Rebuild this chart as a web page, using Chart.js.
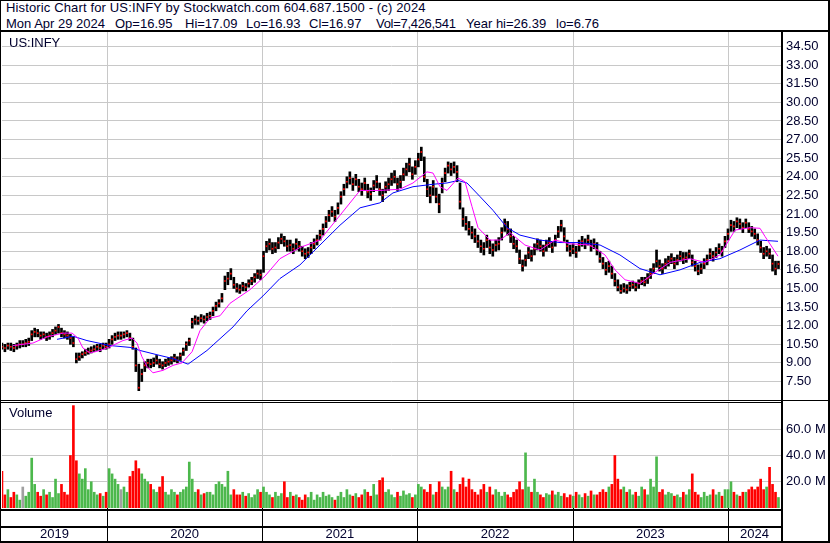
<!DOCTYPE html>
<html><head><meta charset="utf-8">
<script src="https://cdn.jsdelivr.net/npm/chart.js@4.4.1/dist/chart.umd.min.js"></script>
<style>
html,body{margin:0;padding:0;background:#fff;}
body{width:830px;height:543px;position:relative;overflow:hidden;font-family:"Liberation Sans",Arial,sans-serif;color:#00002e;}
.t{position:absolute;white-space:pre;font-size:13px;line-height:15px;}
.l{position:absolute;background:#000;}
canvas{position:absolute;left:0;}
</style></head><body>
<canvas id="price" width="830" height="368" style="top:32px"></canvas>
<canvas id="vol" width="830" height="140" style="top:403px"></canvas>
<div class="t" style="left:6px;top:0px;letter-spacing:0.14px">Historic Chart for US:INFY by Stockwatch.com 604.687.1500 - (c) 2024</div>
<div class="t" style="left:6px;top:16px">Mon Apr 29 2024</div>
<div class="t" style="left:115px;top:16px">Op=16.95</div>
<div class="t" style="left:185px;top:16px">Hi=17.09</div>
<div class="t" style="left:246px;top:16px">Lo=16.93</div>
<div class="t" style="left:309px;top:16px">Cl=16.97</div>
<div class="t" style="left:376px;top:16px;letter-spacing:-0.3px">Vol=7,426,541</div>
<div class="t" style="left:466px;top:16px">Year hi=26.39</div>
<div class="t" style="left:556px;top:16px">lo=6.76</div>
<div class="t" style="left:9px;top:35px">US:INFY</div>
<div class="t" style="left:9px;top:405px">Volume</div>
<div class="l" style="left:0;top:0;width:830px;height:1px"></div>
<div class="l" style="left:0;top:0;width:1px;height:543px"></div>
<div class="l" style="left:828px;top:0;width:2px;height:543px"></div>
<div class="l" style="left:0;top:541px;width:830px;height:2px"></div>
<div class="l" style="left:0;top:30px;width:830px;height:2px"></div>
<div class="l" style="left:781px;top:30px;width:2px;height:513px"></div>
<div class="l" style="left:0;top:400px;width:830px;height:1px"></div>
<div class="l" style="left:0;top:402px;width:782px;height:1px"></div>
<div class="l" style="left:0;top:509px;width:782px;height:2px"></div>
<div class="l" style="left:0;top:526px;width:782px;height:2px"></div>
<script>
// ---- data (weekly, starting week of 2019-04-29) ----
const START = [2019, 3, 29];
const CLOSE = [
10.3,10.2,10.4,10.3,10.2,10.4,10.5,10.5,10.6,10.7,
11.3,11.5,11.4,11.2,11.3,11.1,11.2,11.4,11.6,11.9,
11.4,11.3,11.2,11.0,10.6,9.3,9.5,9.7,9.8,9.9,
10.0,10.1,10.3,10.2,10.4,10.3,10.5,10.9,11.1,11.2,
11.2,11.3,11.4,11.0,10.3,8.8,7.0,8.1,8.8,9.0,
8.9,9.0,9.2,8.9,8.8,9.0,9.1,9.2,9.4,9.2,
9.6,10.0,10.5,10.8,12.3,12.5,12.4,12.6,12.5,12.7,
12.8,13.2,13.6,13.8,14.2,15.6,15.8,16.2,15.3,15.0,
14.9,15.2,15.1,15.4,15.6,15.9,16.2,16.1,17.6,18.4,
18.6,18.2,18.3,18.7,19.0,18.8,18.4,18.5,18.2,18.6,
18.4,18.0,17.8,17.9,18.3,18.6,18.9,19.3,19.8,20.4,
20.9,21.2,20.8,21.5,22.4,23.0,23.6,23.9,23.4,23.8,
23.2,23.0,23.5,22.8,22.6,23.3,23.6,23.0,22.5,23.2,
23.4,23.8,24.0,23.4,23.6,24.2,24.6,25.0,24.2,24.8,
25.4,26.0,24.0,23.0,22.5,23.2,22.4,21.8,23.5,24.3,
24.9,24.6,24.8,24.4,22.0,20.6,20.2,19.8,19.5,19.2,
18.8,18.4,18.2,18.9,18.3,18.1,18.5,18.6,19.5,20.2,
19.8,19.2,18.6,18.4,17.4,16.8,17.3,17.9,17.6,18.2,
18.6,18.4,18.0,18.5,18.7,18.3,18.9,19.6,20.1,19.2,
18.4,18.0,18.2,17.9,18.5,18.8,18.6,18.9,18.4,18.6,
18.1,17.4,17.0,16.5,16.8,16.2,15.6,15.1,14.8,15.0,
14.9,15.2,15.3,15.1,15.4,15.6,15.5,15.8,16.2,16.6,
17.2,16.8,16.6,17.0,17.2,17.4,17.0,17.3,17.6,17.4,
17.5,17.8,17.1,16.8,16.4,16.6,17.0,17.3,17.8,17.6,
17.9,18.2,18.0,18.8,19.4,20.1,20.0,20.4,20.2,19.9,
20.3,19.8,19.6,19.4,18.9,18.3,17.8,18.0,17.8,17.0,16.6,16.97];
const HIGH = [
10.6,10.5,10.6,10.6,10.5,10.6,10.8,10.8,10.9,11.0,
11.6,11.8,11.7,11.5,11.5,11.4,11.5,11.7,11.9,12.1,
11.8,11.6,11.5,11.3,11.1,9.8,9.8,9.9,10.1,10.2,
10.3,10.4,10.5,10.5,10.6,10.6,10.9,11.2,11.4,11.5,
11.5,11.5,11.6,11.4,11.0,10.2,8.9,8.5,9.1,9.3,
9.3,9.4,9.6,9.3,9.1,9.3,9.4,9.5,9.7,9.5,
9.8,10.2,10.7,11.0,12.6,12.8,12.7,12.9,12.8,13.0,
13.1,13.5,13.9,14.1,14.6,16.0,16.3,16.6,15.9,15.4,
15.3,15.5,15.4,15.7,15.9,16.2,16.5,16.5,18.0,18.8,
19.0,18.7,18.7,19.1,19.4,19.2,18.9,18.9,18.6,19.0,
18.8,18.4,18.2,18.3,18.7,19.0,19.3,19.7,20.2,20.8,
21.3,21.6,21.3,21.9,22.8,23.4,24.0,24.4,23.9,24.2,
23.8,23.5,23.9,23.4,23.1,23.7,24.1,23.5,23.0,23.6,
23.9,24.3,24.5,23.9,24.1,24.7,25.1,25.5,24.8,25.3,
25.9,26.39,25.6,23.8,23.2,23.7,23.1,22.6,23.9,24.7,
25.2,25.1,25.2,24.9,23.5,21.5,20.8,20.4,20.0,19.8,
19.3,18.9,18.7,19.3,18.9,18.6,18.9,19.1,19.9,20.6,
20.4,19.8,19.2,18.9,18.1,17.3,17.7,18.3,18.1,18.6,
19.0,18.9,18.5,18.9,19.1,18.8,19.3,20.0,20.5,19.9,
18.9,18.5,18.6,18.4,18.9,19.2,19.0,19.3,18.9,19.0,
18.7,18.0,17.5,17.1,17.2,16.8,16.2,15.7,15.3,15.4,
15.3,15.5,15.6,15.5,15.7,15.9,15.9,16.2,16.6,17.0,
18.1,17.3,17.0,17.4,17.6,17.8,17.5,17.7,18.0,17.9,
17.9,18.1,17.7,17.2,16.9,17.0,17.4,17.7,18.2,18.0,
18.3,18.6,18.4,19.2,19.8,20.5,20.4,20.7,20.6,20.3,
20.6,20.3,20.0,19.8,19.4,18.8,18.3,18.4,18.2,17.7,17.2,17.2];
const LOW = [
10.1,9.9,10.1,10.0,9.9,10.1,10.2,10.3,10.3,10.4,
10.8,11.1,11.1,10.9,11.0,10.8,10.9,11.1,11.3,11.4,
11.1,11.0,10.9,10.5,10.3,9.0,9.2,9.4,9.6,9.7,
9.8,9.9,10.0,9.9,10.1,10.1,10.2,10.5,10.8,10.9,
10.9,11.0,11.1,10.8,10.1,8.3,6.76,7.5,8.3,8.6,
8.6,8.7,8.9,8.6,8.5,8.7,8.8,8.9,9.1,9.0,
9.2,9.6,10.0,10.4,11.8,12.1,12.1,12.3,12.2,12.4,
12.5,12.8,13.2,13.5,13.9,14.9,15.3,15.7,15.0,14.7,
14.6,14.8,14.8,15.1,15.3,15.5,15.8,15.7,16.3,17.9,
18.1,17.8,17.9,18.2,18.6,18.4,18.0,18.0,17.8,18.1,
18.0,17.6,17.4,17.5,17.8,18.2,18.5,18.9,19.3,19.9,
20.4,20.8,20.4,21.0,21.8,22.5,23.1,23.4,22.9,23.3,
22.8,22.5,22.9,22.3,22.1,22.8,23.1,22.5,22.0,22.7,
22.9,23.3,23.5,22.9,23.1,23.7,24.1,24.4,23.8,24.2,
24.8,25.3,23.6,22.4,21.9,22.5,21.9,21.1,22.7,23.6,
24.3,24.1,24.3,23.6,21.4,20.0,19.7,19.3,19.0,18.7,
18.3,17.9,17.7,18.3,17.8,17.6,18.0,18.1,18.9,19.6,
19.3,18.7,18.2,17.9,17.0,16.4,16.8,17.4,17.2,17.7,
18.1,18.0,17.6,18.0,18.3,17.9,18.4,19.1,19.6,18.8,
18.0,17.6,17.8,17.5,18.0,18.4,18.2,18.5,18.0,18.2,
17.7,17.1,16.6,16.1,16.3,15.8,15.2,14.8,14.6,14.7,
14.6,14.8,15.0,14.8,15.0,15.3,15.2,15.4,15.8,16.2,
16.7,16.4,16.2,16.6,16.8,17.0,16.6,16.9,17.2,17.0,
17.1,17.4,16.8,16.4,16.1,16.2,16.6,16.9,17.4,17.2,
17.5,17.8,17.6,18.3,18.9,19.6,19.6,19.9,19.8,19.5,
19.9,19.5,19.2,19.0,18.5,17.9,17.4,17.6,17.4,16.4,16.1,16.6];
const VOLUME = [ // millions
28,10,14,8,12,10,6,16,9,12,
38,18,12,9,14,10,12,8,22,11,
18,12,10,40,78,36,26,22,30,14,
20,12,10,11,9,12,30,26,22,18,
14,16,12,24,28,36,30,26,22,20,
18,14,12,16,24,12,10,14,12,10,
12,14,16,35,22,12,14,10,11,12,
12,10,18,20,18,16,28,10,14,10,
10,12,9,11,8,10,14,12,16,12,
10,8,12,9,11,20,8,12,9,10,
8,6,10,8,12,6,10,8,12,9,
10,8,6,9,12,8,14,10,9,11,
8,10,14,12,9,18,10,21,23,12,
14,10,8,12,9,13,10,11,8,10,
18,16,14,12,18,10,12,20,16,14,
16,28,14,12,18,23,16,22,14,12,
10,14,18,12,16,10,14,12,9,12,
10,8,12,14,20,14,42,16,12,22,
12,10,8,11,10,13,10,12,9,11,
8,10,9,12,10,8,11,9,13,10,
10,12,14,12,16,18,40,22,14,16,
12,14,10,12,9,16,14,10,22,16,
39,12,14,10,12,11,9,10,8,12,
10,14,26,12,10,8,12,9,10,14,
10,12,9,14,14,20,12,10,9,12,
12,14,16,14,16,22,14,16,31,18,12,8];
// short moving average (magenta), read at dates (fractional years)
const MA_FAST_T = [2019.394,2019.523,2019.614,2019.717,2019.775,2019.813,2019.845,2019.890,2019.955,2020.019,2020.103,2020.161,2020.193,2020.225,2020.258,2020.296,2020.361,2020.425,2020.483,2020.548,2020.599,2020.663,2020.728,2020.792,2020.921,2021.018,2021.114,2021.243,2021.372,2021.501,2021.630,2021.758,2021.887,2021.971,2022.061,2022.100,2022.145,2022.190,2022.261,2022.306,2022.351,2022.390,2022.467,2022.531,2022.596,2022.692,2022.789,2022.886,2022.982,2023.111,2023.208,2023.272,2023.337,2023.433,2023.530,2023.626,2023.755,2023.852,2023.948,2024.045,2024.142,2024.206,2024.238,2024.322];
const MA_FAST = [10.4,10.6,11.1,11.4,11.4,11.0,10.2,9.8,10.0,10.3,10.8,11.0,10.6,9.5,8.7,8.2,8.4,8.8,9.0,9.9,11.6,12.6,12.8,13.8,14.9,16.0,17.4,18.3,18.9,20.9,22.9,22.9,23.0,23.5,24.4,24.3,23.2,22.9,23.9,23.6,21.6,19.9,18.9,18.9,19.5,18.5,18.1,18.9,18.6,18.5,17.7,16.5,15.7,15.4,16.3,17.1,17.4,17.1,17.7,19.7,19.9,19.85,19.2,17.6];
// long moving average (blue)
const MA_SLOW_T = [2019.678,2019.781,2019.871,2020.019,2020.148,2020.213,2020.341,2020.425,2020.522,2020.644,2020.812,2020.902,2021.005,2021.114,2021.243,2021.372,2021.501,2021.630,2021.758,2021.842,2021.971,2022.100,2022.190,2022.261,2022.319,2022.403,2022.486,2022.577,2022.660,2022.789,2022.918,2023.047,2023.176,2023.304,2023.433,2023.562,2023.691,2023.820,2023.948,2024.077,2024.206,2024.322];
const MA_SLOW = [10.9,11.15,10.8,10.4,10.25,10.0,9.6,9.35,8.9,10.0,11.9,13.2,14.4,15.8,16.9,18.5,20.1,21.5,21.9,22.7,23.2,23.4,23.5,23.7,23.5,22.4,21.3,19.9,19.3,18.9,18.7,18.7,18.5,17.7,16.6,16.1,16.5,17.1,17.4,18.1,18.9,18.8];
const PRICE_TICKS = [7.5,9,10.5,12,13.5,15,16.5,18,19.5,21,22.5,24,25.5,27,28.5,30,31.5,33,34.5];
const VOL_TICKS = [20,40,60];
const YEARS = ['2019','2020','2021','2022','2023','2024'];
const YEAR_BOUNDS = [2020,2021,2022,2023,2024];

// ---- helpers ----
const FONT = {family:'"Liberation Sans", Arial, sans-serif', size:13};
const TXT = '#00002e';
const XMIN = 2019.3237, XMAX = 2024.3414;
function fracYear(ms){const d=new Date(ms);const y=d.getUTCFullYear();const a=Date.UTC(y,0,1),b=Date.UTC(y+1,0,1);return y+(ms-a)/(b-a);}
const t0 = Date.UTC(START[0],START[1],START[2]);
const WEEK_T = CLOSE.map((_,i)=>fracYear(t0+i*7*86400000));
const LABEL_POS = [ (XMIN+2020)/2, 2020.5, 2021.5, 2022.5, 2023.5, (2024+XMAX)/2 ];

const noPad = s => { s.paddingTop = 0; s.paddingBottom = 0; s.paddingLeft = 0; s.paddingRight = 0; };

const vgrid = {
  id:'vgrid',
  beforeDatasetsDraw(chart){
    const {ctx, chartArea:a, scales:{x}} = chart;
    ctx.save(); ctx.fillStyle='#c8c8c8';
    YEAR_BOUNDS.forEach(v=>{const px=Math.round(x.getPixelForValue(v)); ctx.fillRect(px,a.top,1,a.bottom-a.top);});
    ctx.restore();
  }
};
const sep = {
  id:'sep',
  afterDraw(chart){
    const {ctx, chartArea:a, scales:{x}} = chart;
    ctx.save(); ctx.fillStyle='#000';
    YEAR_BOUNDS.forEach(v=>{const px=Math.round(x.getPixelForValue(v)); ctx.fillRect(px,a.bottom,1,chart.height-a.bottom);});
    ctx.restore();
  }
};

Chart.defaults.font.family = FONT.family;

new Chart(document.getElementById('price'), {
  type:'bar',
  data:{datasets:[
    {type:'line', data:MA_FAST_T.map((t,i)=>({x:t,y:MA_FAST[i]})), borderColor:'#ff00ff', borderWidth:1, pointRadius:0, pointHoverRadius:0, tension:0, order:1},
    {type:'line', data:MA_SLOW_T.map((t,i)=>({x:t,y:MA_SLOW[i]})), borderColor:'#0000ff', borderWidth:1, pointRadius:0, pointHoverRadius:0, tension:0, order:1},
    {type:'scatter', data:WEEK_T.map((t,i)=>({x:t,y:CLOSE[i]})), pointStyle:'rect', pointRadius:1.2, pointHoverRadius:0, backgroundColor:'#ff0000', borderWidth:0, order:2},
    {type:'bar', data:WEEK_T.map((t,i)=>({x:t,y:[LOW[i],HIGH[i]]})), backgroundColor:'#000', barThickness:2, grouped:false, order:3}
  ]},
  options:{
    responsive:false, animation:false, devicePixelRatio:1, events:[],
    layout:{autoPadding:false, padding:{left:2,right:0,top:0,bottom:0}},
    plugins:{legend:{display:false}, tooltip:{enabled:false}},
    scales:{
      x:{type:'linear', min:XMIN, max:XMAX, offset:false, display:false},
      y:{position:'right', min:6.01, max:35.67,
         afterBuildTicks:s=>{s.ticks=PRICE_TICKS.map(v=>({value:v}));},
         afterFit:s=>{s.width=49; noPad(s);},
         grid:{color:'#c8c8c8', drawTicks:false, lineWidth:1},
         border:{display:false},
         ticks:{padding:5, color:TXT, font:FONT, callback:v=>Number(v).toFixed(2)}}
    }
  },
  plugins:[vgrid]
});

const VCOL = VOLUME.map((v,i)=> i===0 ? '#ff0000' : (CLOSE[i]>CLOSE[i-1] ? '#4cb84c' : (CLOSE[i]<CLOSE[i-1] ? '#ff0000' : '#a0a0a0')));
new Chart(document.getElementById('vol'), {
  type:'bar',
  data:{datasets:[
    {data:WEEK_T.map((t,i)=>({x:t,y:VOLUME[i]})), backgroundColor:VCOL, barThickness:2, grouped:false}
  ]},
  options:{
    responsive:false, animation:false, devicePixelRatio:1, events:[],
    layout:{autoPadding:false, padding:{left:2,right:0,top:0,bottom:0}},
    plugins:{legend:{display:false}, tooltip:{enabled:false}},
    scales:{
      x:{type:'linear', min:XMIN, max:XMAX, offset:false, position:'bottom',
         afterBuildTicks:s=>{s.ticks=LABEL_POS.map(v=>({value:v}));},
         afterFit:s=>{s.height=35; noPad(s);},
         grid:{display:false, drawTicks:false, offset:false}, border:{display:false},
         ticks:{autoSkip:false, maxRotation:0, padding:19, color:TXT, font:FONT, callback:(v,i)=>YEARS[i]}},
      y:{position:'right', min:0, max:80,
         afterBuildTicks:s=>{s.ticks=VOL_TICKS.map(v=>({value:v}));},
         afterFit:s=>{s.width=49; noPad(s);},
         grid:{color:'#c8c8c8', drawTicks:false, lineWidth:1},
         border:{display:false},
         ticks:{padding:5, color:TXT, font:FONT, callback:v=>Number(v).toFixed(1)+' M'}}
    }
  },
  plugins:[vgrid, sep]
});
</script>
</body></html>
